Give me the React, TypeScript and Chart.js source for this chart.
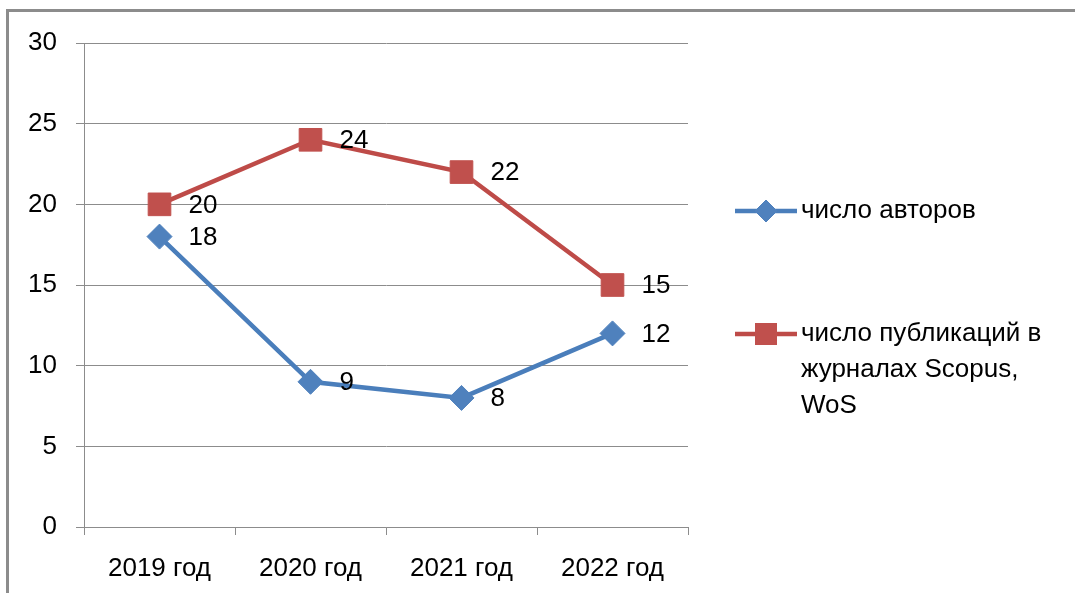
import React, { useEffect, useRef } from "react";
import { Chart, registerables } from "chart.js";

Chart.register(...registerables);

const categories = ["2019 год", "2020 год", "2021 год", "2022 год"];
const authors = [18, 9, 8, 12];
const publications = [20, 24, 22, 15];
const yTicks = [0, 5, 10, 15, 20, 25, 30];
const legendAuthors = ["число авторов"];
const legendPublications = ["число публикаций в", "журналах Scopus,", "WoS"];

const FONT = "'Liberation Sans', 'DejaVu Sans', sans-serif";
const BLUE = "#4A7EBB";
const BLUE_M = "#4F81BD";
const RED = "#BE4B48";
const RED_M = "#C0504D";
const GRID = "#8C8C8C";

const labelsPlugin = {
  id: "pointLabels",
  afterDatasetsDraw(chart: any) {
    const ctx = chart.ctx;
    ctx.save();
    ctx.font = `26px ${FONT}`;
    ctx.fillStyle = "#000";
    ctx.textAlign = "left";
    ctx.textBaseline = "middle";
    chart.data.datasets.forEach((ds: any, i: number) => {
      const meta = chart.getDatasetMeta(i);
      meta.data.forEach((pt: any, j: number) => {
        ctx.fillText(String(ds.data[j]), pt.x + 29, pt.y + 1);
      });
    });
    ctx.restore();
  },
};

const legendPlugin = {
  id: "sideLegend",
  afterDraw(chart: any) {
    const ctx = chart.ctx;
    const items = [
      { lines: legendAuthors, y: 211, ds: 0 },
      { lines: legendPublications, y: 334, ds: 1 },
    ];
    ctx.save();
    items.forEach((it) => {
      const ds = chart.data.datasets[it.ds];
      ctx.strokeStyle = ds.borderColor;
      ctx.lineWidth = ds.borderWidth;
      ctx.beginPath();
      ctx.moveTo(735, it.y);
      ctx.lineTo(797, it.y);
      ctx.stroke();
      ctx.fillStyle = ds.pointBackgroundColor;
      ctx.strokeStyle = ds.pointBackgroundColor;
      ctx.lineWidth = 1;
      if (ds.pointStyle === "rectRot") {
        const r = 11;
        ctx.beginPath();
        ctx.moveTo(766 - r, it.y);
        ctx.lineTo(766, it.y - r);
        ctx.lineTo(766 + r, it.y);
        ctx.lineTo(766, it.y + r);
        ctx.closePath();
        ctx.fill();
        ctx.stroke();
      } else {
        ctx.fillRect(755, it.y - 11, 22, 22);
      }
      ctx.font = `26px ${FONT}`;
      ctx.fillStyle = "#000";
      ctx.textAlign = "left";
      ctx.textBaseline = "middle";
      it.lines.forEach((line: string, k: number) => {
        ctx.fillText(line, 801, it.y + k * 36);
      });
    });
    ctx.restore();
  },
};

export default function App() {
  const ref = useRef<HTMLCanvasElement | null>(null);
  useEffect(() => {
    document.body.style.margin = "0";
    const chart = new Chart(ref.current as HTMLCanvasElement, {
      type: "line",
      data: {
        labels: categories,
        datasets: [
          {
            label: legendAuthors.join(" "),
            data: authors,
            borderColor: BLUE,
            borderWidth: 4.5,
            pointStyle: "rectRot",
            pointRadius: 12.5,
            pointBackgroundColor: BLUE_M,
            pointBorderColor: BLUE_M,
            pointBorderWidth: 1,
            tension: 0,
          },
          {
            label: legendPublications.join(" "),
            data: publications,
            borderColor: RED,
            borderWidth: 4.5,
            pointStyle: "rect",
            pointRadius: 16,
            pointBackgroundColor: RED_M,
            pointBorderColor: RED_M,
            pointBorderWidth: 1,
            tension: 0,
          },
        ],
      } as any,
      options: {
        responsive: false,
        animation: false,
        layout: { padding: { left: 0, top: 43, right: 387, bottom: 0 } },
        plugins: {
          legend: { display: false },
          tooltip: { enabled: false },
        },
        scales: {
          x: {
            offset: true,
            grid: {
              offset: true,
              drawOnChartArea: false,
              drawTicks: true,
              tickLength: 8,
              color: GRID,
            },
            border: { color: GRID },
            ticks: {
              color: "#000",
              font: { family: FONT, size: 26 },
              padding: 18,
              maxRotation: 0,
            },
            afterFit: (s: any) => {
              s.height = 66;
            },
          },
          y: {
            min: 0,
            max: 30,
            afterBuildTicks: (s: any) => {
              s.ticks = yTicks.map((v) => ({ value: v }));
            },
            grid: { color: GRID, tickLength: 8 },
            border: { color: GRID },
            ticks: {
              color: "#000",
              font: { family: FONT, size: 26 },
              padding: 19,
            },
            afterFit: (s: any) => {
              s.width = 84;
            },
          },
        },
      } as any,
      plugins: [labelsPlugin, legendPlugin],
    });
    return () => chart.destroy();
  }, []);

  return (
    <div style={{ position: "relative", width: 1075, height: 593, overflow: "hidden", background: "#fff" }}>
      <div
        style={{
          position: "absolute",
          left: 6,
          top: 9,
          width: 1200,
          height: 700,
          border: "3px solid #8C8C8C",
        }}
      />
      <canvas ref={ref} width={1075} height={593} style={{ position: "absolute", left: 0, top: 0 }} />
    </div>
  );
}
